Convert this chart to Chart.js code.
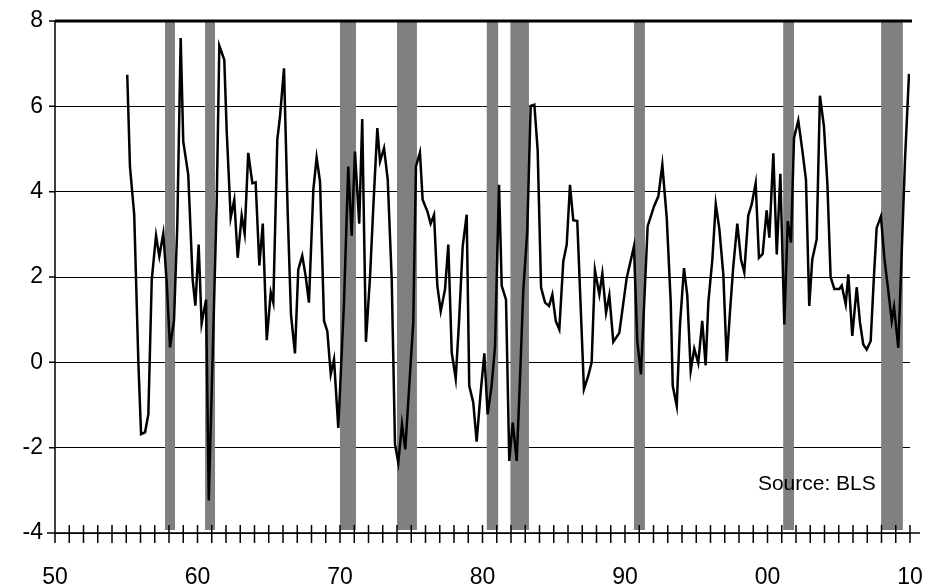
<!DOCTYPE html>
<html>
<head>
<meta charset="utf-8">
<script src="https://cdn.jsdelivr.net/npm/chart.js@4/dist/chart.umd.min.js"></script>
<style>
  body { margin: 0; background: #fff; }
  #wrap { width: 930px; height: 588px; }
</style>
</head>
<body>
<div id="wrap"><canvas id="chart"></canvas></div>
<script>
// year (decimal) and value of each vertex
const years = [
  1955.07,1955.26,1955.56,1955.85,1956.04,1956.32,1956.55,1956.79,1957.09,1957.32,1957.6,1957.84,
  1958.07,1958.35,1958.58,1958.82,1959.0,1959.35,1959.66,1959.85,1960.08,1960.29,1960.6,1960.79,
  1961.07,1961.35,1961.53,1961.88,1962.05,1962.33,1962.58,1962.82,1963.1,1963.31,1963.56,1963.85,
  1964.08,1964.34,1964.58,1964.86,1965.14,1965.32,1965.6,1965.79,1966.07,1966.33,1966.56,1966.84,
  1967.07,1967.35,1967.59,1967.82,1968.13,1968.36,1968.6,1968.88,1969.11,1969.35,1969.58,1969.88,
  1970.28,1970.58,1970.82,1971.05,1971.35,1971.56,1971.82,1972.11,1972.34,1972.62,
  1972.81,1973.09,1973.35,1973.63,1973.86,1974.09,1974.35,1974.58,1974.86,1975.14,
  1975.33,1975.61,1975.8,1976.13,1976.36,1976.6,1976.83,1977.07,1977.37,1977.6,
  1977.84,1978.12,1978.35,1978.61,1978.89,1979.07,1979.35,1979.59,1979.87,1980.13,
  1980.36,1980.64,1980.88,1981.16,1981.35,1981.65,1981.88,1982.12,1982.4,1982.63,
  1982.86,1983.14,1983.38,1983.64,1983.87,1984.11,1984.39,1984.67,1984.9,1985.14,
  1985.39,1985.67,1985.91,1986.14,1986.37,
  1986.65,1987.12,1987.42,1987.66,1987.89,1988.2,1988.41,1988.67,1988.9,1989.18,
  1989.6,1990.12,1990.63,1990.86,1991.12,1991.59,1992.04,1992.34,1992.62,1992.93,
  1993.21,1993.35,1993.63,1993.86,1994.14,1994.37,1994.61,1994.86,1995.14,1995.42,
  1995.66,1995.85,1996.13,1996.37,1996.62,1996.9,1997.14,1997.37,1997.6,1997.88,
  1998.14,1998.37,1998.65,1998.89,1999.17,1999.4,1999.66,1999.94,2000.13,2000.41,
  2000.65,2000.9,2001.18,2001.42,2001.65,2001.86,2002.16,2002.44,2002.7,2002.93,
  2003.14,2003.45,2003.68,2003.96,2004.2,2004.43,2004.69,2005.04,2005.21,2005.49,
  2005.67,2005.95,2006.26,2006.49,2006.72,2006.96,2007.24,2007.47,2007.66,2007.96,
  2008.2,2008.48,2008.72,2008.88,2009.18,2009.65,2009.93
];
const productivity = [
  6.74,4.59,3.46,0.0,-1.68,-1.64,-1.22,1.94,2.97,2.49,3.02,1.87,
  0.35,0.97,3.19,7.6,5.18,4.4,1.94,1.33,2.76,0.91,1.47,-3.24,
  0.23,3.77,7.42,7.09,5.41,3.39,3.81,2.45,3.44,3.02,4.91,4.2,
  4.22,2.27,3.25,0.52,1.64,1.4,5.22,5.76,6.89,3.5,1.12,0.21,
  2.17,2.5,2.02,1.4,4.05,4.8,4.23,0.97,0.73,-0.28,0.07,-1.54,
  1.4,4.59,2.97,4.94,3.25,5.7,0.48,2.02,3.66,5.49,
  4.71,5.02,4.28,1.94,-1.92,-2.35,-1.45,-2.04,-0.55,0.93,
  4.59,4.92,3.81,3.54,3.25,3.46,1.79,1.2,1.71,2.76,
  0.23,-0.38,0.93,2.72,3.46,-0.55,-0.94,-1.86,-0.71,0.21,
  -1.22,-0.55,0.38,4.16,1.79,1.47,-2.31,-1.41,-2.31,-0.4,
  1.67,3.07,6.01,6.04,4.98,1.75,1.4,1.32,1.59,0.97,
  0.77,2.37,2.76,4.16,3.33,
  3.31,-0.63,-0.32,0.0,2.16,1.59,2.08,1.16,1.57,0.48,
  0.69,1.98,2.72,0.5,-0.28,3.19,3.66,3.89,4.63,3.38,
  1.4,-0.55,-1.02,0.89,2.21,1.57,-0.2,0.32,-0.02,0.97,
  -0.07,1.41,2.41,3.71,3.13,2.06,0.02,1.2,2.25,3.25,
  2.41,2.11,3.44,3.7,4.2,2.45,2.54,3.56,2.92,4.9,
  2.53,4.42,0.89,3.31,2.81,5.26,5.67,4.98,4.28,1.32,
  2.41,2.88,6.25,5.53,4.2,2.0,1.72,1.72,1.8,1.36,
  2.06,0.62,1.76,0.93,0.42,0.3,0.5,2.02,3.15,3.42,
  2.45,1.67,0.97,1.3,0.34,4.75,6.76
];
// recession bands: start, end (decimal years)
const recessionStart = [1957.72,1960.53,1970.0,1974.0,1980.3,1981.96,1990.63,2001.1,2007.97];
const recessionEnd   = [1958.42,1961.23,1971.12,1975.4,1981.1,1983.26,1991.4,2001.86,2009.5];
const yTicks = [-4,-2,0,2,4,6,8];
const xTicks = [1950,1960,1970,1980,1990,2000,2010];

const points = years.map((x, i) => ({ x, y: productivity[i] }));
const FONT = "'Liberation Sans', Arial, sans-serif";

const bandsPlugin = {
  id: "bands",
  beforeDatasetsDraw(chart) {
    const { ctx, chartArea, scales } = chart;
    ctx.save();
    ctx.fillStyle = "#808080";
    recessionStart.forEach((s, i) => {
      const x0 = scales.x.getPixelForValue(s);
      const x1 = scales.x.getPixelForValue(recessionEnd[i]);
      ctx.fillRect(x0, chartArea.top, x1 - x0, chartArea.bottom - chartArea.top - 3);
    });
    ctx.restore();
  },
  afterDatasetsDraw(chart) {
    const { ctx, chartArea, scales } = chart;
    ctx.save();
    ctx.strokeStyle = "#000";
    ctx.lineWidth = 1.5;
    ctx.beginPath();
    ctx.moveTo(chartArea.left - 8, chartArea.bottom);
    ctx.lineTo(chartArea.right + 10, chartArea.bottom);
    ctx.moveTo(chartArea.left, chartArea.top);
    ctx.lineTo(chartArea.left, chartArea.bottom);
    for (let yr = 1950; yr <= 2010; yr++) {
      const x = scales.x.getPixelForValue(yr);
      ctx.moveTo(x, chartArea.bottom - 8);
      ctx.lineTo(x, chartArea.bottom + 10);
    }
    yTicks.forEach((v) => {
      const y = scales.y.getPixelForValue(v);
      ctx.moveTo(chartArea.left - 6, y);
      ctx.lineTo(chartArea.left, y);
    });
    ctx.stroke();
    ctx.lineWidth = 3;
    ctx.beginPath();
    ctx.moveTo(chartArea.left, chartArea.top);
    ctx.lineTo(chartArea.right + 2, chartArea.top);
    ctx.stroke();
    ctx.fillStyle = "#000";
    ctx.font = "21px " + FONT;
    ctx.textAlign = "right";
    ctx.textBaseline = "middle";
    ctx.fillText("Source: BLS", scales.x.getPixelForValue(2007.6), scales.y.getPixelForValue(-2.86));
    ctx.restore();
  }
};

new Chart(document.getElementById("chart"), {
  type: "line",
  data: {
    datasets: [{
      data: points,
      borderColor: "#000",
      borderWidth: 2.5,
      pointRadius: 0,
      tension: 0,
      fill: false
    }]
  },
  options: {
    responsive: true,
    maintainAspectRatio: false,
    animation: false,
    layout: { padding: { top: 21, right: 20, left: 0, bottom: 0 } },
    plugins: { legend: { display: false }, tooltip: { enabled: false } },
    scales: {
      x: {
        type: "linear",
        min: 1950,
        max: 2010,
        afterFit(s) { s.height = 55; s.paddingLeft = 0; s.paddingRight = 0; },
        afterBuildTicks(s) { s.ticks = xTicks.map((v) => ({ value: v })); },
        ticks: {
          padding: 31,
          color: "#000",
          font: { family: FONT, size: 23 },
          maxRotation: 0,
          callback: (v) => String(v % 100).padStart(2, "0")
        },
        grid: { display: false, drawTicks: false },
        border: { display: false }
      },
      y: {
        min: -4,
        max: 8,
        afterFit(s) { s.width = 55; s.paddingTop = 0; s.paddingBottom = 0; },
        afterBuildTicks(s) { s.ticks = yTicks.map((v) => ({ value: v })); },
        ticks: {
          padding: 12,
          color: "#000",
          font: { family: FONT, size: 23 }
        },
        grid: { color: "#000", lineWidth: 1, drawTicks: false },
        border: { display: false }
      }
    }
  },
  plugins: [bandsPlugin]
});
</script>
</body>
</html>
